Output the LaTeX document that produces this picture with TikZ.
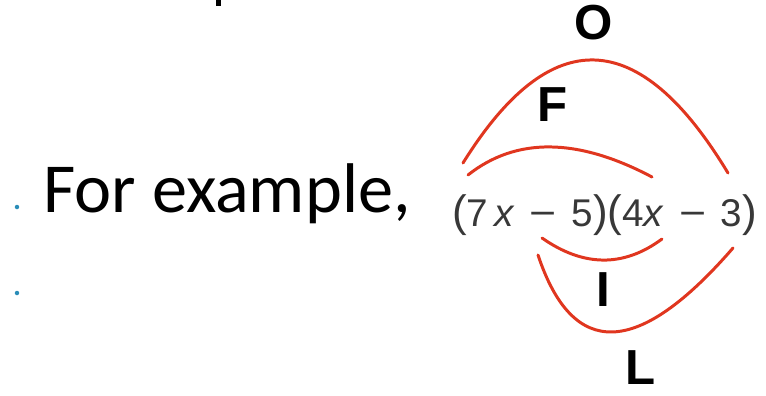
\documentclass[tikz,border=0pt]{standalone}
\usepackage{fontspec}
\usepackage{xcolor}
\usetikzlibrary{positioning,calc}
\setmainfont{Carlito}
\newfontfamily\exprfont{Liberation Sans}

\definecolor{arcred}{HTML}{E0361F}
\definecolor{bulletblue}{HTML}{2A8DB8}
\definecolor{exprgray}{HTML}{383838}

\newcommand{\bigpar}[1]{{\fontsize{25}{25}\selectfont #1}}
\newcommand{\wdash}{\hspace{0.1em}\scalebox{1.2}[1]{−}\hspace{0.1em}}

\begin{document}
\begin{tikzpicture}[
				slidetext/.style={
					inner sep=0pt, anchor=base west,
					font=\fontsize{40}{48}\selectfont
				},
				exprtext/.style={
					inner sep=0pt, anchor=base west, text=exprgray,
					font=\exprfont\fontsize{22}{27}\selectfont
				},
				foillabel/.style={
					inner sep=0pt, font=\exprfont\bfseries\fontsize{28}{32}\selectfont
				},
				foilarc/.style={arcred, line width=1.7pt, line cap=round}
				]
				\useasboundingbox (0,0) rectangle (15.32,7.9);
				
				% cut-off letter at top edge
				\fill (4.32,7.78) rectangle (4.42,7.9);
				
				% bullets
				\fill[bulletblue] (0.34,3.76) circle (0.045);
				\fill[bulletblue] (0.34,2.04) circle (0.045);
				
				% For example,
				\node[slidetext] (example) at (0.86,3.66) {For example,};
				
				% expression
				\node[exprtext] (expr) at (9.04,3.38)
					{\bigpar{(}7\,\textit{x} \wdash{} 5\bigpar{)}\bigpar{(}4\textit{x} \wdash{} 3\bigpar{)}};
				
				% labels
				\node[foillabel] (outer) at (11.88,7.44) {O};
				\node[foillabel] (first) at (11.06,5.80) {F};
				\node[foillabel] (inner) at (12.06,2.10) {I};
				\node[foillabel] (last)  at (12.82,0.54) {L};
				
				% arc ends
				\coordinate (o1) at (9.26,4.64);
				\coordinate (o2) at (14.56,4.44);
				\coordinate (f1) at (9.36,4.40);
				\coordinate (f2) at (13.04,4.36);
				\coordinate (i1) at (10.84,3.14);
				\coordinate (i2) at (13.24,3.12);
				\coordinate (l1) at (10.76,2.80);
				\coordinate (l2) at (14.66,2.94);
				
				% arcs
				\draw[foilarc] (o1) .. controls (11.01,7.45) and (12.78,7.39) .. (o2);
				\draw[foilarc] (f1) .. controls (10.32,5.16) and (11.55,5.15) .. (f2);
				\draw[foilarc] (i1) .. controls (11.67,2.56) and (12.47,2.55) .. (i2);
				\draw[foilarc] (l1) .. controls (11.46,0.70) and (12.76,0.75) .. (l2);
			\end{tikzpicture}
\end{document}
